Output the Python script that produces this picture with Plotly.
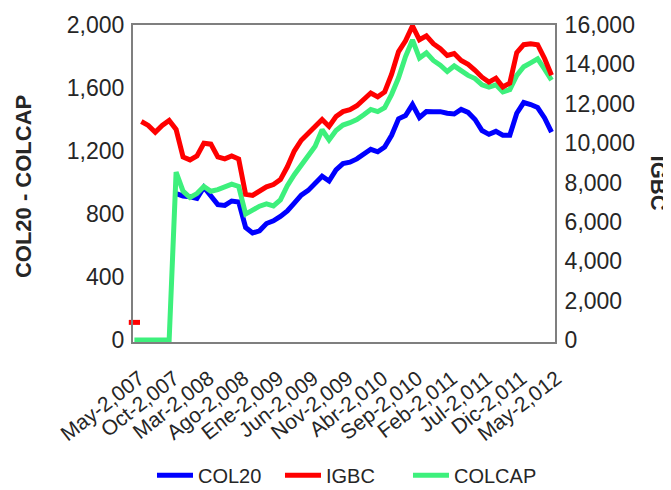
import plotly.graph_objects as go

# Month index 0 = May-2007 ... 60 = May-2012
months = list(range(61))

tick_months = [0, 5, 10, 15, 20, 25, 30, 35, 40, 45, 50, 55, 60]
tick_labels = ["May-2,007", "Oct-2,007", "Mar-2,008", "Ago-2,008", "Ene-2,009",
               "Jun-2,009", "Nov-2,009", "Abr-2,010", "Sep-2,010", "Feb-2,011",
               "Jul-2,011", "Dic-2,011", "May-2,012"]

col20 = [None, None, None, None, None, None,
         930, 915, 910, 900, 970, 920, 860, 855, 883, 877,
         715, 680, 694, 740, 757, 785, 820, 870, 920, 950,
         1000, 1040, 1010, 1080, 1120, 1129, 1150, 1180, 1211, 1195,
         1225, 1300, 1405, 1425, 1495, 1413, 1451, 1450, 1450, 1440,
         1435, 1464, 1445, 1400, 1330, 1306, 1325, 1300, 1300, 1440,
         1508, 1495, 1476, 1410, 1320]

igbc = [900,
        11100, 10900, 10550, 10900, 11150, 10700, 9300, 9150, 9350, 10000,
        9950, 9300, 9200, 9350, 9200, 7400, 7350, 7600, 7780, 7900,
        8150, 8800, 9600, 10150, 10500, 10900, 11200, 10850, 11350, 11600,
        11700, 11900, 12250, 12550, 12350, 12600, 13500, 14650, 15200, 15950,
        15250, 15450, 15050, 14800, 14450, 14550, 14200, 14000, 13700, 13350,
        13100, 13300, 12850, 13050, 14600, 15000, 15050, 15000, 14300, 13450]

colcap = [0, 0, 0, 0, 0, 0,
          1066, 945, 905, 930, 975, 945, 955, 975, 990, 975,
          800, 825, 850, 865, 852, 890, 980, 1050, 1110, 1170,
          1230, 1335, 1270, 1330, 1365, 1380, 1400, 1430, 1464, 1450,
          1475, 1560, 1665, 1800, 1905, 1790, 1823, 1775, 1745, 1705,
          1740, 1710, 1680, 1660, 1620, 1605, 1620, 1575, 1590, 1680,
          1735, 1760, 1785, 1720, 1650]

BLUE = "#0000FF"
RED = "#FF0000"
GREEN = "#3DF07C"
FONT = "Liberation Sans, Arial, sans-serif"
TXT = "#262626"

fig = go.Figure()
fig.add_trace(go.Scatter(x=months, y=col20, name="COL20", mode="lines",
                         line=dict(color=BLUE, width=5), yaxis="y"))
fig.add_trace(go.Scatter(x=months[1:], y=igbc[1:], name="IGBC", mode="lines",
                         line=dict(color=RED, width=5), yaxis="y2"))
fig.add_trace(go.Scatter(x=months[:1], y=igbc[:1], name="IGBC", mode="markers",
                         showlegend=False, cliponaxis=False,
                         marker=dict(symbol="line-ew", size=8,
                                     line=dict(color=RED, width=5)),
                         yaxis="y2"))
fig.add_trace(go.Scatter(x=months, y=colcap, name="COLCAP", mode="lines",
                         line=dict(color=GREEN, width=5), yaxis="y"))

axis_line = dict(showline=True, linecolor="#7f7f7f", linewidth=2,
                 showgrid=False, zeroline=False, automargin=False)

# page body has an 8px default margin, so the figure is laid out 8px up/left
fig.update_layout(
    width=671, height=490,
    margin=dict(l=125, r=124, t=17, b=156, autoexpand=False),
    paper_bgcolor="white", plot_bgcolor="white",
    font=dict(family=FONT, color=TXT, size=23),
    showlegend=True,
    legend=dict(orientation="h", x=0.045, xanchor="left", y=-0.42, yanchor="middle",
                font=dict(size=20, color=TXT), entrywidth=77, itemwidth=36,
                traceorder="normal"),
    xaxis=dict(range=[-0.2, 60.5], tickmode="array", tickvals=tick_months,
               ticktext=tick_labels, tickangle=-38, ticks="outside", ticklen=14,
               ticklabelshift=5,
               tickcolor="rgba(0,0,0,0)", mirror=True,
               tickfont=dict(size=21, color=TXT), **axis_line),
    yaxis=dict(range=[-12, 2000], tickmode="linear", tick0=0, dtick=400,
               tickformat=",", ticks="outside", ticklen=2,
               tickcolor="rgba(0,0,0,0)", tickfont=dict(size=23, color=TXT),
               **axis_line),
    yaxis2=dict(range=[-96, 16000], overlaying="y", side="right",
                tickmode="linear", tick0=0, dtick=2000, tickformat=",",
                ticks="outside", ticklen=3, tickcolor="rgba(0,0,0,0)",
                tickfont=dict(size=23, color=TXT), **axis_line),
    annotations=[
        dict(text="<b>COL20 - COLCAP</b>", xref="paper", yref="paper",
             x=-0.258, y=0.489, xanchor="center", yanchor="middle",
             textangle=-90, showarrow=False, font=dict(size=22, color=TXT)),
        dict(text="<b>IGBC</b>", xref="paper", yref="paper",
             x=1.2464, y=0.50, xanchor="center", yanchor="middle",
             textangle=90, showarrow=False, font=dict(size=22, color=TXT)),
    ],
)

fig.write_html("out.html")
